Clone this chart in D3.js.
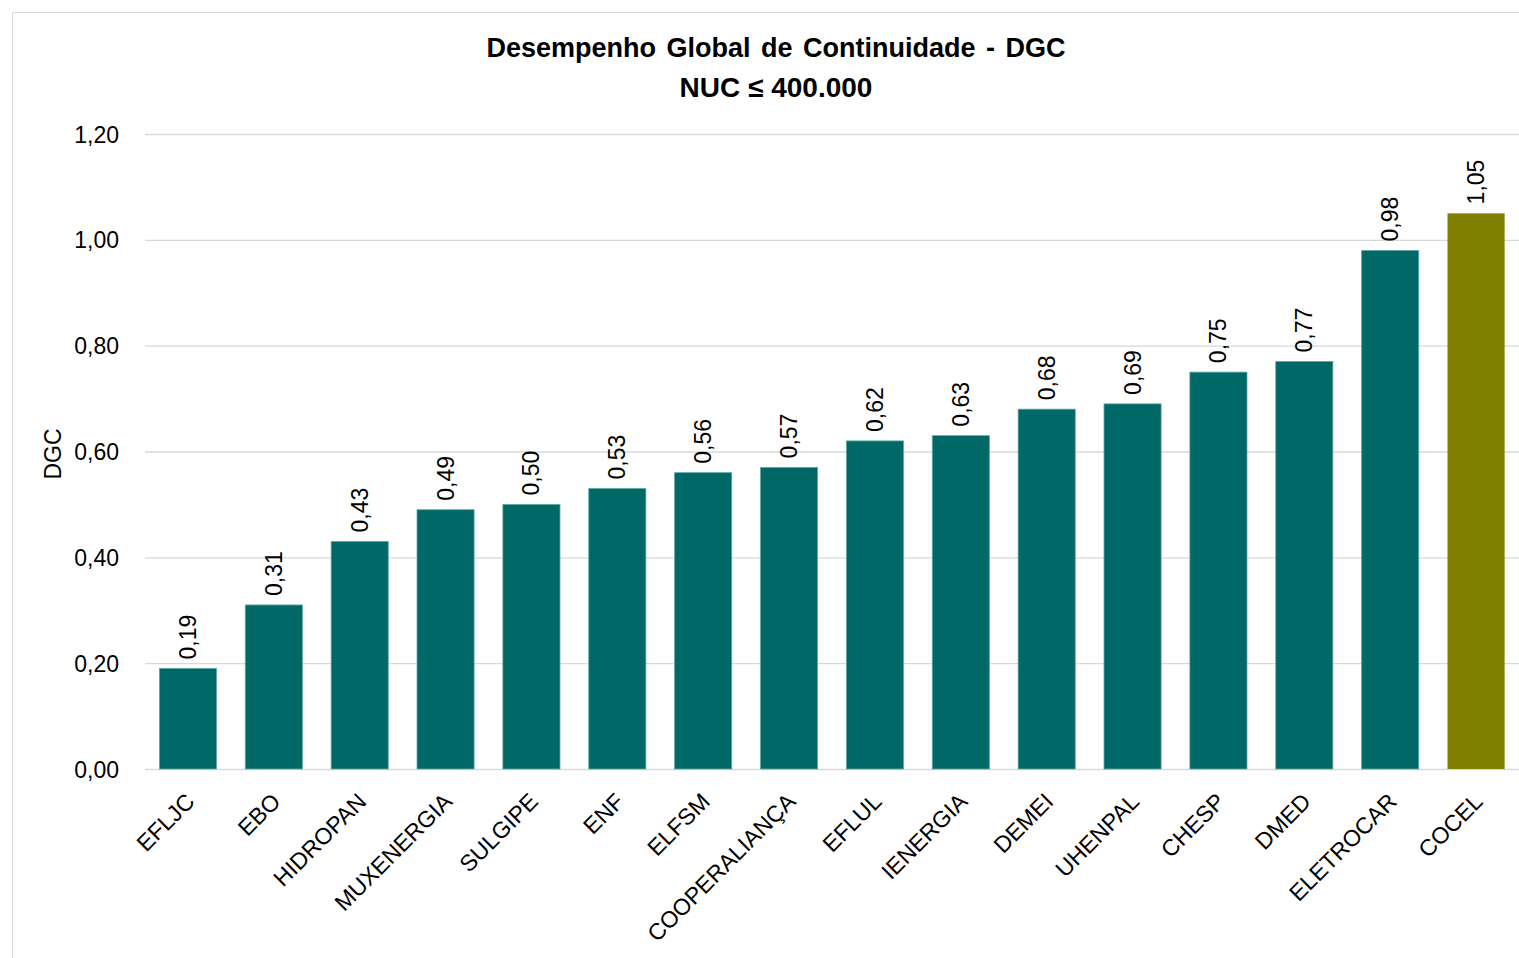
<!DOCTYPE html>
<html>
<meta charset="utf-8">
<script src="https://d3js.org/d3.v7.min.js"></script>
<style>
  body { margin: 0; background: #fff; }
  text { font-family: "Liberation Sans Narrow", "Arial Narrow", "Liberation Sans", sans-serif; fill: #000; }
</style>
<body>
<script>

var empresas = ["EFLJC", "EBO", "HIDROPAN", "MUXENERGIA", "SULGIPE", "ENF", "ELFSM", "COOPERALIANÇA",
  "EFLUL", "IENERGIA", "DEMEI", "UHENPAL", "CHESP", "DMED", "ELETROCAR", "COCEL"];
var dgc = [0.19, 0.31, 0.43, 0.49, 0.50, 0.53, 0.56, 0.57, 0.62, 0.63, 0.68, 0.69, 0.75, 0.77, 0.98, 1.05];
var yTicks = [0, 0.2, 0.4, 0.6, 0.8, 1.0, 1.2];
var destaque = "COCEL";

var W = 1519, H = 958;
var plot = {left: 145, right: 1519, top: 134, bottom: 769};

var svg = d3.select("body").append("svg")
  .attr("width", W)
  .attr("height", H);

// outer frame of the chart
svg.append("rect")
  .attr("x", 12.5).attr("y", 12.5)
  .attr("width", W).attr("height", H)
  .attr("fill", "none")
  .attr("stroke", "#d9d9d9");

var x = d3.scaleBand()
  .domain(empresas)
  .range([plot.left, plot.right])
  .paddingInner(0.335)
  .paddingOuter(0.1675);

var y = d3.scaleLinear()
  .domain([0, 1.2])
  .range([plot.bottom, plot.top]);

var fmt = function(v) { return d3.format(".2f")(v).replace(".", ","); };

// gridlines + y labels
var yAx = d3.axisLeft(y)
  .tickValues(yTicks)
  .tickSize(-(plot.right - plot.left))
  .tickPadding(26)
  .tickFormat(fmt);

var yGroup = svg.append("g")
  .attr("transform", "translate(" + plot.left + ",0)")
  .call(yAx);
yGroup.select(".domain").remove();
yGroup.selectAll("line").attr("stroke", "#d9d9d9").attr("stroke-width", 1.3);
yGroup.selectAll("text")
  .style("font-size", "23px")
  .attr("dy", "0.35em");

// bars
svg.selectAll("rect.bar")
  .data(empresas)
  .enter().append("rect")
  .attr("class", "bar")
  .attr("x", function(d) { return x(d); })
  .attr("y", function(d, i) { return y(dgc[i]); })
  .attr("width", x.bandwidth())
  .attr("height", function(d, i) { return y(0) - y(dgc[i]); })
  .attr("fill", function(d) { return d === destaque ? "#808000" : "#006866"; })
  .attr("stroke", function(d) { return d === destaque ? "none" : "#5fa8a6"; })
  .attr("stroke-width", 0.8);

// value labels
svg.selectAll("text.val")
  .data(empresas)
  .enter().append("text")
  .attr("class", "val")
  .attr("transform", function(d, i) {
    return "translate(" + (x(d) + x.bandwidth() / 2 + 8) + "," + (y(dgc[i]) - 9) + ") rotate(-90)";
  })
  .style("font-size", "23px")
  .text(function(d, i) { return fmt(dgc[i]); });

// x labels
var xAx = d3.axisBottom(x).tickSize(0).tickPadding(0);
var xGroup = svg.append("g")
  .attr("transform", "translate(0," + plot.bottom + ")")
  .call(xAx);
xGroup.select(".domain").remove();
xGroup.selectAll("text")
  .style("font-size", "23px")
  .attr("text-anchor", "end")
  .attr("dy", null)
  .attr("y", 0)
  .attr("transform", "translate(8,34) rotate(-45)");

// y axis title
svg.append("text")
  .attr("transform", "translate(61,454) rotate(-90)")
  .attr("text-anchor", "middle")
  .style("font-size", "23px")
  .text("DGC");

// title
svg.append("text")
  .attr("x", 776).attr("y", 57)
  .attr("text-anchor", "middle")
  .attr("xml:space", "preserve")
  .style("font-size", "27px").style("font-weight", "bold")
  .style("word-spacing", "3px")
  .text("Desempenho Global de Continuidade - DGC");
svg.append("text")
  .attr("x", 776).attr("y", 97)
  .attr("text-anchor", "middle")
  .style("font-size", "28px").style("font-weight", "bold")
  .text("NUC ≤ 400.000");

</script>
</body>
</html>
